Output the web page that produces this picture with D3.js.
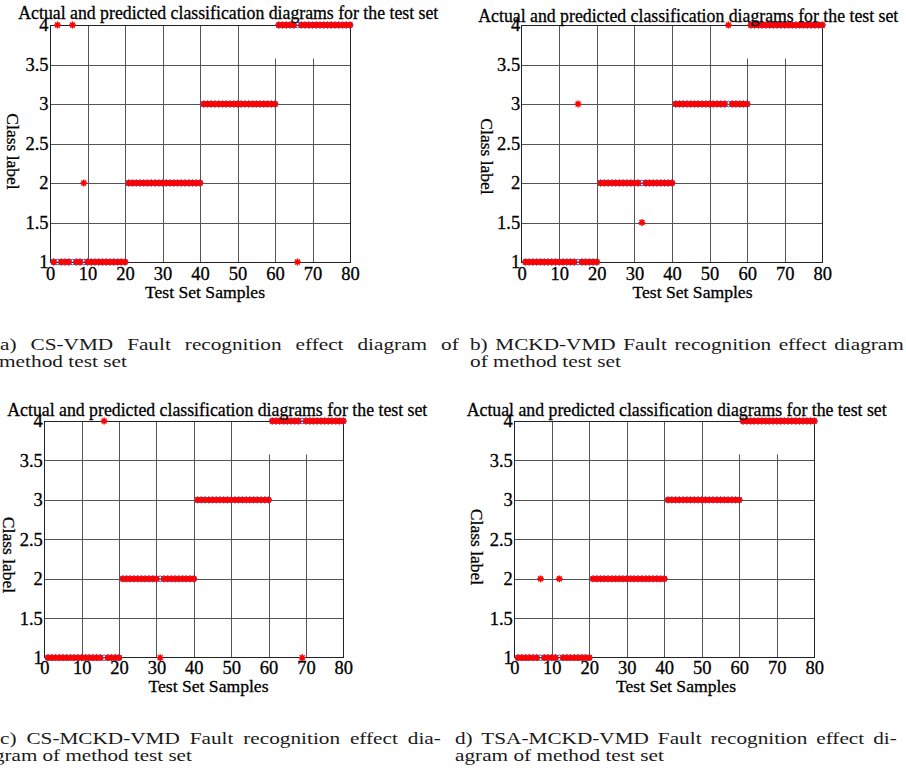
<!DOCTYPE html>
<html><head><meta charset="utf-8">
<script src="https://cdn.jsdelivr.net/npm/d3@7"></script>
<style>body{margin:0;background:#fff} svg{display:block}</style>
</head><body>
<svg id="chart" width="906" height="771"></svg>
<script>
// ---------- data ----------
const sampleIndex = [1,2,3,4,5,6,7,8,9,10,11,12,13,14,15,16,17,18,19,20,
  21,22,23,24,25,26,27,28,29,30,31,32,33,34,35,36,37,38,39,40,
  41,42,43,44,45,46,47,48,49,50,51,52,53,54,55,56,57,58,59,60,
  61,62,63,64,65,66,67,68,69,70,71,72,73,74,75,76,77,78,79,80];
const actualClass = [1,1,1,1,1,1,1,1,1,1,1,1,1,1,1,1,1,1,1,1,
  2,2,2,2,2,2,2,2,2,2,2,2,2,2,2,2,2,2,2,2,
  3,3,3,3,3,3,3,3,3,3,3,3,3,3,3,3,3,3,3,3,
  4,4,4,4,4,4,4,4,4,4,4,4,4,4,4,4,4,4,4,4];
// (a) CS-VMD
const predictedA = [1,4,1,1,1,4,1,1,2,1,1,1,1,1,1,1,1,1,1,1,
  2,2,2,2,2,2,2,2,2,2,2,2,2,2,2,2,2,2,2,2,
  3,3,3,3,3,3,3,3,3,3,3,3,3,3,3,3,3,3,3,3,
  4,4,4,4,4,1,4,4,4,4,4,4,4,4,4,4,4,4,4,4];
// (b) MCKD-VMD
const predictedB = [1,1,1,1,1,1,1,1,1,1,1,1,1,1,3,1,1,1,1,1,
  2,2,2,2,2,2,2,2,2,2,2,1.5,2,2,2,2,2,2,2,2,
  3,3,3,3,3,3,3,3,3,3,3,3,3,3,4,3,3,3,3,3,
  4,4,4,4,4,4,4,4,4,4,4,4,4,4,4,4,4,4,4,4];
// (c) CS-MCKD-VMD
const predictedC = [1,1,1,1,1,1,1,1,1,1,1,1,1,1,1,4,1,1,1,1,
  2,2,2,2,2,2,2,2,2,2,1,2,2,2,2,2,2,2,2,2,
  3,3,3,3,3,3,3,3,3,3,3,3,3,3,3,3,3,3,3,3,
  4,4,4,4,4,4,4,4,1,4,4,4,4,4,4,4,4,4,4,4];
// (d) TSA-MCKD-VMD
const predictedD = [1,1,1,1,1,1,2,1,1,1,1,2,1,1,1,1,1,1,1,1,
  2,2,2,2,2,2,2,2,2,2,2,2,2,2,2,2,2,2,2,2,
  3,3,3,3,3,3,3,3,3,3,3,3,3,3,3,3,3,3,3,3,
  4,4,4,4,4,4,4,4,4,4,4,4,4,4,4,4,4,4,4,4];

const xTicks = [0,10,20,30,40,50,60,70,80];
const xTickLabels = ["0","10","20","30","40","50","60","70","80"];
const yTicks = [1,1.5,2,2.5,3,3.5,4];
const yTickLabels = ["1","1.5","2","2.5","3","3.5","4"];
const titleText = "Actual and predicted classification diagrams for the test set";
const xLabelText = "Test Set Samples";
const yLabelText = "Class label";
const captionTexts = [
  "a) CS-VMD Fault recognition effect diagram of",
  "method test set",
  "b) MCKD-VMD Fault recognition effect diagram",
  "of method test set",
  "c) CS-MCKD-VMD Fault recognition effect dia-",
  "gram of method test set",
  "d) TSA-MCKD-VMD Fault recognition effect di-",
  "agram of method test set"
];

// ---------- layout ----------
const panels = [
  {pred: predictedA, left:50, right:350, top:25, bottom:262,
   title:{x:18.3, y:19}, xl:{x:205, y:298}, yl:{x:12.5, y:151.5}, xPad:5},
  {pred: predictedB, left:521.7, right:822.3, top:25, bottom:262,
   title:{x:478.3, y:21.5}, xl:{x:692.5, y:298}, yl:{x:487, y:156.5}, xPad:5},
  {pred: predictedC, left:44.3, right:343.3, top:421, bottom:657.7,
   title:{x:7.3, y:415.5}, xl:{x:208.5, y:691.5}, yl:{x:9, y:555}, xPad:3},
  {pred: predictedD, left:514.3, right:814.3, top:421, bottom:657.7,
   title:{x:466.7, y:415.5}, xl:{x:676, y:691.5}, yl:{x:477, y:547}, xPad:3}
];
const captionLayout = [
  {x:0,   y:349.5, w:459, justify:true},
  {x:-1,  y:366.8, w:128, justify:false},
  {x:470, y:349.5, w:434, justify:true},
  {x:470, y:366.8, w:151, justify:false},
  {x:0,   y:744.3, w:441, justify:true},
  {x:-6,  y:761.3, w:198, justify:false},
  {x:455, y:744.3, w:442, justify:true},
  {x:455, y:761.3, w:209, justify:false}
];

const serif = "'Liberation Serif','Times New Roman',Times,serif";
const svg = d3.select("#chart");
svg.append("rect").attr("width",906).attr("height",771).attr("fill","#fff");

const gridColor = "#555", axisColor = "#222";
const starType = {draw(ctx, size){
  const r = Math.sqrt(size)/2, d = r*0.72;
  ctx.moveTo(-r,0); ctx.lineTo(r,0);
  ctx.moveTo(0,-r); ctx.lineTo(0,r);
  ctx.moveTo(-d,-d); ctx.lineTo(d,d);
  ctx.moveTo(-d,d); ctx.lineTo(d,-d);
}};
function heavy(sel, size){
  sel.attr("font-family",serif).attr("font-size",size+"px").attr("fill","#000")
     .attr("stroke","#000").attr("stroke-width",0.3);
}

panels.forEach(p => {
  const x = d3.scaleLinear().domain([0,80]).range([p.left,p.right]);
  const y = d3.scaleLinear().domain([1,4]).range([p.bottom,p.top]);
  const g = svg.append("g");

  // grid
  const gx = g.append("g").attr("transform",`translate(0,${p.bottom})`)
    .call(d3.axisBottom(x).tickValues(xTicks.slice(1,-1)).tickSize(-(p.bottom-p.top)).tickFormat(""));
  gx.select(".domain").remove();
  gx.selectAll("line").attr("stroke",gridColor).attr("stroke-width",1).attr("shape-rendering","crispEdges");
  const gy = g.append("g").attr("transform",`translate(${p.left},0)`)
    .call(d3.axisLeft(y).tickValues(yTicks.slice(1,-1)).tickSize(-(p.right-p.left)).tickFormat(""));
  gy.select(".domain").remove();
  gy.selectAll("line").attr("stroke",gridColor).attr("stroke-width",1).attr("shape-rendering","crispEdges");

  // blank legend area (hides grid at top-right)
  g.append("rect").attr("x",x(55)).attr("y",y(4)).attr("width",x(80)-x(55)).attr("height",y(3.576)-y(4))
    .attr("fill","#fff");

  // box
  g.append("rect").attr("x",p.left).attr("y",p.top).attr("width",p.right-p.left).attr("height",p.bottom-p.top)
    .attr("fill","none").attr("stroke",axisColor).attr("stroke-width",1).attr("shape-rendering","crispEdges");

  // tick labels
  const ax = g.append("g").attr("transform",`translate(0,${p.bottom})`)
    .call(d3.axisBottom(x).tickValues(xTicks).tickSize(0).tickPadding(p.xPad).tickFormat((d,i)=>xTickLabels[i]));
  ax.select(".domain").remove();
  heavy(ax.selectAll("text"), 18.5);
  const ay = g.append("g").attr("transform",`translate(${p.left},0)`)
    .call(d3.axisLeft(y).tickValues(yTicks).tickSize(0).tickPadding(1.5).tickFormat((d,i)=>yTickLabels[i]));
  ay.select(".domain").remove();
  heavy(ay.selectAll("text"), 18.5);

  // data: actual (blue circles), predicted (red asterisks)
  const actual = sampleIndex.map((s,i)=>({s, v: actualClass[i]}));
  const pred = sampleIndex.map((s,i)=>({s, v: p.pred[i]}));
  g.append("g").selectAll("circle").data(actual).join("circle")
    .attr("cx",d=>x(d.s)).attr("cy",d=>y(d.v)).attr("r",2.8)
    .attr("fill","none").attr("stroke","#1f72d6").attr("stroke-width",1);
  const sym = d3.symbol().type(starType).size(46);
  g.append("g").selectAll("path").data(pred).join("path")
    .attr("transform",d=>`translate(${x(d.s)},${y(d.v)})`)
    .attr("d",sym).attr("fill","none").attr("stroke","#ff0000").attr("stroke-width",1.5);

  // title
  const t = svg.append("text").attr("x",p.title.x).attr("y",p.title.y)
    .attr("textLength",420).attr("lengthAdjust","spacingAndGlyphs").text(titleText);
  heavy(t, 18.5);
  // x label
  const xl = svg.append("text").attr("x",p.xl.x).attr("y",p.xl.y).attr("text-anchor","middle")
    .attr("textLength",120).attr("lengthAdjust","spacingAndGlyphs").text(xLabelText);
  heavy(xl, 17.5);
  // y label (reads top to bottom)
  const yl = svg.append("text").attr("transform",`translate(${p.yl.x},${p.yl.y}) rotate(90)`)
    .attr("text-anchor","middle").attr("dominant-baseline","central").text(yLabelText);
  heavy(yl, 17.5);
});

// captions
const capFont = 17;
const capNodes = captionTexts.map((t,i)=>{
  const c = captionLayout[i];
  const node = svg.append("text").attr("x",0).attr("y",0)
    .attr("font-family",serif).attr("font-size",capFont+"px").attr("fill","#1a1a1a")
    .style("white-space","pre").text(t);
  return {node, c, t, L: node.node().getComputedTextLength()};
});
const nonJ = capNodes.filter(o=>!o.c.justify);
const sxAvg = d3.mean(nonJ, o=>o.c.w/o.L);
capNodes.forEach(o=>{
  let sx;
  if(!o.c.justify){ sx = o.c.w/o.L; }
  else {
    sx = sxAvg;
    const nSp = (o.t.match(/ /g)||[]).length;
    const ws = Math.max(0,(o.c.w/sx - o.L)/nSp);
    o.node.attr("word-spacing", ws+"px");
  }
  o.node.attr("transform",`translate(${o.c.x},${o.c.y}) scale(${sx},1)`);
});
</script>
</body></html>
